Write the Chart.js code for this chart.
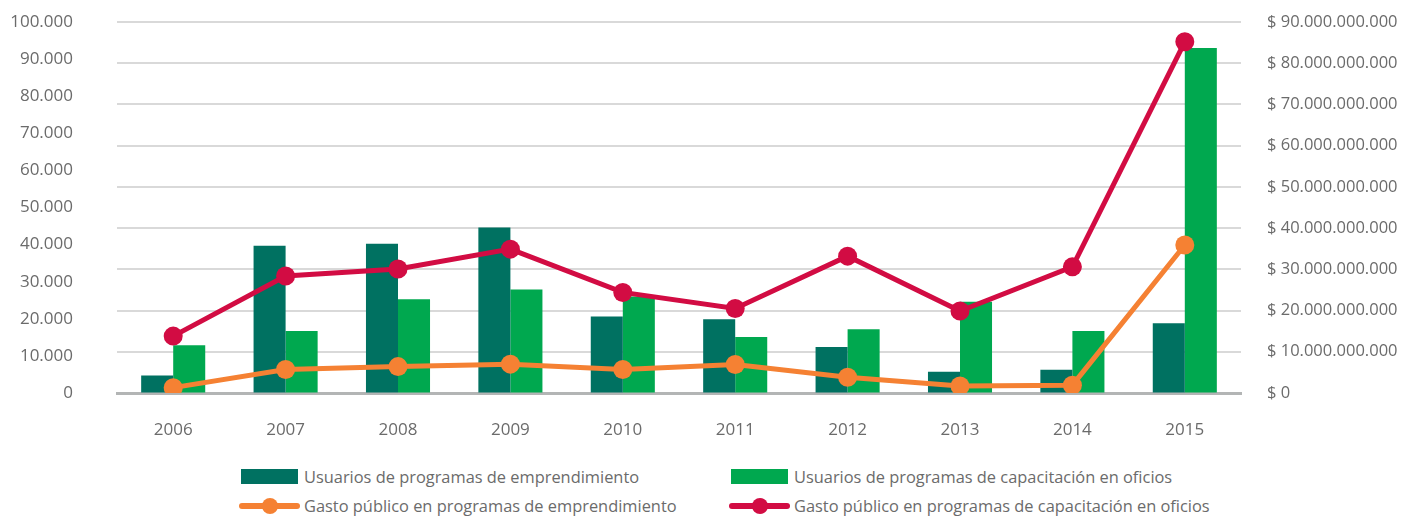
<!DOCTYPE html>
<html>
<head>
<meta charset="utf-8">
<script src="https://cdn.jsdelivr.net/npm/chart.js@4/dist/chart.umd.min.js"></script>
<style>
    html, body { margin: 0; padding: 0; background: #fff; }
    #wrap { position: relative; width: 1404px; height: 517px; font-family: "Open Sans", sans-serif; }
    #chartBox { position: absolute; left: 0; top: 0; width: 1404px; height: 450px; }
    .lg-item { position: absolute; height: 20px; color: #6b6b6b; font-size: 16.4px; line-height: 20px; white-space: nowrap; }
    .lg-box { position: absolute; left: 0; top: 2px; width: 57px; height: 15px; }
    .lg-line { position: absolute; left: -2px; top: 7px; width: 61px; height: 6px; border-radius: 3px; }
    .lg-dot { position: absolute; left: 21px; top: 2px; width: 16px; height: 16px; border-radius: 50%; }
    .lg-text { position: absolute; left: 63px; top: 0; }
</style>
</head>
<body>
<div id="wrap">
    <div id="chartBox"><canvas id="myChart"></canvas></div>
    <div id="legend"></div>
</div>
<script>
    // categories and values
    let years = ['2006', '2007', '2008', '2009', '2010', '2011', '2012', '2013', '2014', '2015'];
    let usuariosEmprendimiento = [4700, 39700, 40200, 44600, 20600, 19900, 12400, 5700, 6300, 18800];
    let usuariosCapacitacion = [12900, 16700, 25300, 27900, 26000, 15100, 17200, 24600, 16700, 93000];
    let gastoEmprendimiento = [1.3e9, 5.7e9, 6.4e9, 7.0e9, 5.7e9, 6.9e9, 3.8e9, 1.7e9, 1.9e9, 35.9e9];
    let gastoCapacitacion = [13.8e9, 28.4e9, 30.1e9, 34.9e9, 24.4e9, 20.5e9, 33.2e9, 19.9e9, 30.6e9, 85.2e9];
    let leftTicks = [0, 10000, 20000, 30000, 40000, 50000, 60000, 70000, 80000, 90000, 100000];
    let rightTicks = [0, 1e10, 2e10, 3e10, 4e10, 5e10, 6e10, 7e10, 8e10, 9e10];

    let tickColor = '#6b6b6b';
    let fontFamily = '"Open Sans", sans-serif';

    function fmt(v) {
        return String(Math.round(v)).replace(/\B(?=(\d{3})+(?!\d))/g, '.');
    }

    let chart = (function () {

        function buildDatasets() {
            return [{
                type: 'bar',
                label: 'Usuarios de programas de emprendimiento',
                data: usuariosEmprendimiento,
                yAxisID: 'yLeft',
                backgroundColor: '#007161',
                categoryPercentage: 0.57,
                barPercentage: 1.0,
                order: 2
            }, {
                type: 'bar',
                label: 'Usuarios de programas de capacitación en oficios',
                data: usuariosCapacitacion,
                yAxisID: 'yLeft',
                backgroundColor: '#00a84f',
                categoryPercentage: 0.57,
                barPercentage: 1.0,
                order: 2
            }, {
                type: 'line',
                label: 'Gasto público en programas de emprendimiento',
                data: gastoEmprendimiento,
                yAxisID: 'yRight',
                borderColor: '#f58133',
                backgroundColor: '#f58133',
                borderWidth: 5,
                pointRadius: 9.5,
                pointHoverRadius: 9.5,
                pointBorderWidth: 0,
                order: 1
            }, {
                type: 'line',
                label: 'Gasto público en programas de capacitación en oficios',
                data: gastoCapacitacion,
                yAxisID: 'yRight',
                borderColor: '#d20c43',
                backgroundColor: '#d20c43',
                borderWidth: 5,
                pointRadius: 9.5,
                pointHoverRadius: 9.5,
                pointBorderWidth: 0,
                order: 0
            }];
        }

        function draw() {
            let ctx = document.getElementById('myChart');
            return new Chart(ctx, {
                data: {
                    labels: years,
                    datasets: buildDatasets()
                },
                options: {
                    responsive: true,
                    maintainAspectRatio: false,
                    animation: false,
                    layout: { padding: { top: 22, left: 0, right: 0, bottom: 0 } },
                    plugins: {
                        legend: { display: false },
                        tooltip: { enabled: false }
                    },
                    scales: {
                        x: {
                            grid: { display: false, drawTicks: false },
                            border: { display: true, color: '#b3b5b5', width: 3 },
                            ticks: { color: tickColor, font: { family: fontFamily, size: 17 }, padding: 27 },
                            afterFit: function (scale) { scale.height = 57; }
                        },
                        yLeft: {
                            position: 'left',
                            min: 0,
                            max: 100000,
                            // invisible tick marks push the labels away from the plot
                            grid: { display: true, drawOnChartArea: false, drawTicks: true, tickLength: 42, tickColor: 'rgba(0,0,0,0)' },
                            border: { display: false },
                            afterBuildTicks: function (scale) {
                                scale.ticks = leftTicks.map(function (v) { return { value: v }; });
                            },
                            ticks: {
                                color: tickColor,
                                font: { family: fontFamily, size: 17 },
                                padding: 2,
                                callback: function (v) { return fmt(v); }
                            },
                            afterFit: function (scale) { scale.width = 117; }
                        },
                        yRight: {
                            position: 'right',
                            min: 0,
                            max: 9e10,
                            grid: { display: true, drawTicks: true, tickLength: 24, tickColor: 'rgba(0,0,0,0)', color: '#d9d9d9', lineWidth: 2 },
                            border: { display: false },
                            afterBuildTicks: function (scale) {
                                scale.ticks = rightTicks.map(function (v) { return { value: v }; });
                            },
                            ticks: {
                                color: tickColor,
                                font: { family: fontFamily, size: 16.5 },
                                padding: 2,
                                callback: function (v) { return '$ ' + fmt(v); }
                            },
                            afterFit: function (scale) { scale.width = 163; }
                        }
                    }
                }
            });
        }

        function buildLegend(c) {
            // 2 x 2 grid: bars on the first row, lines on the second
            let slots = {
                'Usuarios de programas de emprendimiento': [241, 467],
                'Usuarios de programas de capacitación en oficios': [731, 467],
                'Gasto público en programas de emprendimiento': [241, 496],
                'Gasto público en programas de capacitación en oficios': [731, 496]
            };
            let box = document.getElementById('legend');
            c.data.datasets.forEach(function (ds) {
                let pos = slots[ds.label];
                let item = document.createElement('div');
                item.className = 'lg-item';
                item.style.left = pos[0] + 'px';
                item.style.top = pos[1] + 'px';
                if (ds.type === 'bar') {
                    item.innerHTML = '<div class="lg-box" style="background:' + ds.backgroundColor + '"></div>';
                } else {
                    item.innerHTML = '<div class="lg-line" style="background:' + ds.borderColor + '"></div>' +
                        '<div class="lg-dot" style="background:' + ds.borderColor + '"></div>';
                }
                let txt = document.createElement('div');
                txt.className = 'lg-text';
                txt.textContent = ds.label;
                item.appendChild(txt);
                box.appendChild(item);
            });
        }

        return {
            draw: draw,
            buildLegend: buildLegend
        }
    })();

    let myChart = chart.draw();
    chart.buildLegend(myChart);
</script>
</body>
</html>
